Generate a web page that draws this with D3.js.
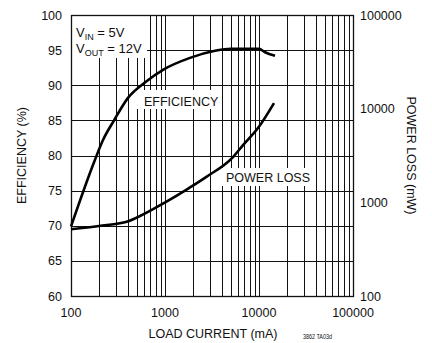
<!DOCTYPE html>
<html>
<head>
<meta charset="utf-8">
<script src="https://cdn.jsdelivr.net/npm/d3@7"></script>
<style>
  body { margin: 0; background: #fff; }
  text { font-family: "Liberation Sans", Arial, sans-serif; fill: #111; }
</style>
</head>
<body>
<div id="graph"></div>
<script>
"use strict"

// load current (mA) and efficiency (%)
var effCurrent = [100, 180, 219, 287, 404, 626, 952, 1845, 3400, 5000, 7000, 10000, 11600, 14800]
var effValue   = [69.9, 79.4, 82.2, 85.0, 88.2, 90.5, 92.2, 93.9, 94.9, 95.2, 95.2, 95.2, 94.7, 94.2]

// load current (mA) and power loss (mW)
var lossCurrent = [100, 198, 414, 491, 1026, 1800, 2730, 5290, 6760, 9750, 14450]
var lossValue   = [515, 558, 632, 680, 1010, 1420, 1860, 3040, 4080, 6210, 11480]

var xTicks = [100, 1000, 10000, 100000]
var effTicks = [60, 65, 70, 75, 80, 85, 90, 95, 100]
var lossTicks = [100, 1000, 10000, 100000]

var width = 432, height = 343
var margin = {top: 15, left: 71, right: 79, bottom: 47}
var chartWidth = width - margin.left - margin.right
var chartHeight = height - margin.top - margin.bottom

main()

function main() {
    var svg = d3.select("#graph").append("svg")
        .attr("width", width).attr("height", height)

    var g = svg.append("g")
        .attr("transform", "translate(" + [margin.left, margin.top] + ")")

    var x = d3.scaleLog().domain([100, 100000]).range([0, chartWidth])
    var yEff = d3.scaleLinear().domain([60, 100]).range([chartHeight, 0])
    var yLoss = d3.scaleLog().domain([100, 100000]).range([chartHeight, 0])

    // vertical log grid, 1..9 per decade
    var grid = g.append("g").attr("stroke", "#111").attr("stroke-width", 1)
    grid.selectAll(".vx")
        .data(x.ticks())
        .enter().append("line")
        .attr("x1", function(d) { return Math.round(x(d)) + 0.5 })
        .attr("x2", function(d) { return Math.round(x(d)) + 0.5 })
        .attr("y1", 0).attr("y2", chartHeight)

    grid.selectAll(".hy")
        .data(effTicks)
        .enter().append("line")
        .attr("x1", 0).attr("x2", chartWidth)
        .attr("y1", function(d) { return Math.round(yEff(d)) + 0.5 })
        .attr("y2", function(d) { return Math.round(yEff(d)) + 0.5 })

    // white label boxes that hide the grid
    var boxes = [
        {x: 0, y: 0, w: 76, h: 43},
        {x: 66, y: 75, w: 80, h: 19},
        {x: 151, y: 153, w: 88, h: 18}
    ]
    g.selectAll(".box")
        .data(boxes)
        .enter().append("rect")
        .attr("x", function(d) { return d.x }).attr("y", function(d) { return d.y })
        .attr("width", function(d) { return d.w }).attr("height", function(d) { return d.h })
        .attr("fill", "#fff")

    // frame
    g.append("rect")
        .attr("x", 0.5).attr("y", 0.5)
        .attr("width", chartWidth).attr("height", chartHeight)
        .attr("fill", "none").attr("stroke", "#111").attr("stroke-width", 1.3)

    var effLine = d3.line()
        .x(function(d) { return x(d[0]) })
        .y(function(d) { return yEff(d[1]) })
        .curve(d3.curveMonotoneX)

    var lossLine = d3.line()
        .x(function(d) { return x(d[0]) })
        .y(function(d) { return yLoss(d[1]) })
        .curve(d3.curveMonotoneX)

    g.append("path")
        .datum(d3.zip(effCurrent, effValue))
        .attr("d", effLine)
        .attr("fill", "none").attr("stroke", "#000").attr("stroke-width", 2.6)

    g.append("path")
        .datum(d3.zip(lossCurrent, lossValue))
        .attr("d", lossLine)
        .attr("fill", "none").attr("stroke", "#000").attr("stroke-width", 2.6)

    // tick labels
    g.selectAll(".xl")
        .data(xTicks)
        .enter().append("text")
        .attr("x", function(d) { return x(d) })
        .attr("y", chartHeight + 21)
        .attr("text-anchor", "middle")
        .style("font-size", "12.5px")
        .text(function(d) { return d })

    g.selectAll(".yl")
        .data(effTicks)
        .enter().append("text")
        .attr("x", -9)
        .attr("y", function(d) { return yEff(d) })
        .attr("dy", "0.36em")
        .attr("text-anchor", "end")
        .style("font-size", "12.5px")
        .text(function(d) { return d })

    g.selectAll(".rl")
        .data(lossTicks)
        .enter().append("text")
        .attr("x", chartWidth + 7)
        .attr("y", function(d) { return yLoss(d) })
        .attr("dy", "0.36em")
        .style("font-size", "12.5px")
        .text(function(d) { return d })

    // axis titles
    g.append("text")
        .attr("transform", "translate(" + [chartWidth / 2 + 1, chartHeight + 42] + ")")
        .attr("text-anchor", "middle")
        .style("font-size", "12.5px")
        .text("LOAD CURRENT (mA)")

    g.append("text")
        .attr("transform", "translate(" + [-45, chartHeight / 2] + ") rotate(-90)")
        .attr("text-anchor", "middle")
        .style("font-size", "12.5px")
        .text("EFFICIENCY (%)")

    g.append("text")
        .attr("transform", "translate(" + [chartWidth + 54, chartHeight / 2] + ") rotate(90)")
        .attr("text-anchor", "middle")
        .style("font-size", "12.5px")
        .text("POWER LOSS (mW)")

    // annotations
    var vin = g.append("text").attr("x", 5).attr("y", 22).style("font-size", "13px")
    vin.append("tspan").text("V")
    vin.append("tspan").attr("dy", 3).style("font-size", "9px").text("IN")
    vin.append("tspan").attr("dy", -3).text(" = 5V")

    var vout = g.append("text").attr("x", 5).attr("y", 38).style("font-size", "13px")
    vout.append("tspan").text("V")
    vout.append("tspan").attr("dy", 3).style("font-size", "9px").text("OUT")
    vout.append("tspan").attr("dy", -3).text(" = 12V")

    g.append("text")
        .attr("x", 73).attr("y", 91)
        .style("font-size", "12.5px")
        .text("EFFICIENCY")

    g.append("text")
        .attr("x", 155).attr("y", 167)
        .style("font-size", "12.5px")
        .text("POWER LOSS")

    svg.append("text")
        .attr("x", 303).attr("y", 339)
        .attr("textLength", 29).attr("lengthAdjust", "spacingAndGlyphs")
        .style("font-size", "7px")
        .text("3862 TA03d")
}
</script>
</body>
</html>
